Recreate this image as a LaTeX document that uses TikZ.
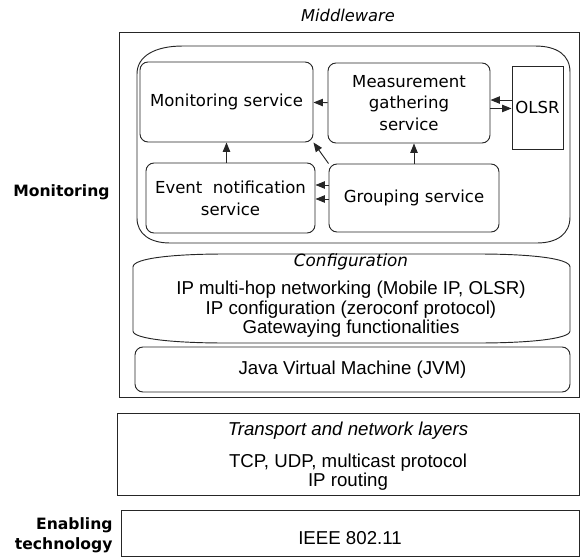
\documentclass[tikz,border=0pt]{standalone}
\usepackage{fontspec}
\setmainfont{DejaVu Sans}
\newfontfamily\arialfont{Liberation Sans}
\usetikzlibrary{positioning,arrows.meta,calc}

\begin{document}
\begin{tikzpicture}[x=0.75pt,y=-0.75pt,line width=0.7pt,draw=black!85,
    svc/.style={draw,rounded corners=6pt,align=center,inner sep=0pt,
        font=\fontsize{12.4}{16.3}\selectfont},
    lyr/.style={draw,inner sep=0pt},
    txt/.style={align=center,inner sep=0pt,font=\arialfont\fontsize{14}{14.6}\selectfont},
    lbl/.style={align=right,inner sep=0pt,anchor=east,font=\bfseries\fontsize{11.7}{15}\selectfont},
    arr/.style={-{Triangle[length=7pt,width=5.5pt]}}]
\useasboundingbox (0,0) rectangle (583,557);

% middleware
\node[font=\itshape\fontsize{12.2}{14}\selectfont] (mw) at (348,15) {Middleware};
\node[lyr,minimum width=345pt,minimum height=273.75pt] (mwbox) at (349,214.5) {};
\node[lbl] (monlbl) at (110,192) {Monitoring};

% monitoring part
\draw (183,46) -- (535,46) .. controls (557,46) and (570,55) .. (570,72) -- (570,217)
    .. controls (570,234) and (557,243) .. (537,243) -- (170,243)
    .. controls (150,243) and (137,234) .. (137,218) -- (137,74)
    .. controls (137,56) and (155,46) .. (183,46) -- cycle;
\node[svc,minimum width=129.75pt,minimum height=60pt] (mon) at (226.5,102) {Monitoring service};
\node[svc,minimum width=121.5pt,minimum height=60pt] (meas) at (409,103) {Measurement\\gathering\\service};
\node[lyr,align=center,font=\fontsize{12.4}{16.3}\selectfont,minimum width=38.25pt,minimum height=62.25pt] (olsr) at (537.5,107.5) {OLSR};
\node[svc,minimum width=126.75pt,minimum height=52.5pt] (ev) at (230.5,198) {Event\ \ notification\\service};
\node[svc,minimum width=127.5pt,minimum height=51pt] (grp) at (414,198) {Grouping service};

\draw[arr] (meas) -- (mon);
\draw[arr] (ev.north -| mon) -- (mon.south);
\draw[arr] (grp.north west) -- (mon.south east);
\draw[arr] ([yshift=9.75pt]grp.west) -- ([yshift=9.75pt]grp.west -| ev.east);
\draw[arr] ([yshift=-0.75pt]grp.west) -- ([yshift=-0.75pt]grp.west -| ev.east);
\draw[arr] (grp.north) -- (grp.north |- meas.south);
\draw[arr] ([yshift=5.6pt]olsr.west) -- ([yshift=5.6pt]olsr.west -| meas.east);
\draw[arr] ([yshift=-4.1pt]meas.east) -- ([yshift=-4.1pt]meas.east -| olsr.west);

% configuration part
\draw (133,331) -- (133,267) .. controls (133,258) and (175,254) .. (225,254) -- (478,254)
    .. controls (528,254) and (570,258) .. (570,267) -- (570,331)
    .. controls (570,339) and (528,343) .. (478,343) -- (225,343)
    .. controls (175,343) and (133,339) .. (133,331) -- cycle;
\node[font=\itshape\fontsize{12.6}{14}\selectfont] (conf) at (351,262) {Configuration};
\node[txt] (conftxt) at (351,309.5) {IP multi-hop networking (Mobile IP, OLSR)\\IP configuration (zeroconf protocol)\\Gatewaying functionalities};
\node[svc,font=\arialfont\fontsize{14}{14.6}\selectfont,minimum width=326.25pt,minimum height=33.75pt] (jvm) at (352.5,369.5) {Java Virtual Machine (JVM)};

% lower layers
\node[lyr,minimum width=346.5pt,minimum height=61.5pt] (tnl) at (348,454) {};
\node[txt,font=\arialfont\itshape\fontsize{14}{14.6}\selectfont] (tnlhead) at (348,431) {Transport and network layers};
\node[txt,font=\arialfont\fontsize{14}{14.25}\selectfont] (tnltxt) at (348,472.5) {TCP, UDP, multicast protocol\\IP routing};
\node[lyr,minimum width=343.5pt,minimum height=34.5pt] (ieee) at (350,533) {};
\node[txt] (ieeetxt) at (350,538) {IEEE 802.11};
\node[lbl] (enlbl) at (113,535) {Enabling\\technology};
\end{tikzpicture}
\end{document}
